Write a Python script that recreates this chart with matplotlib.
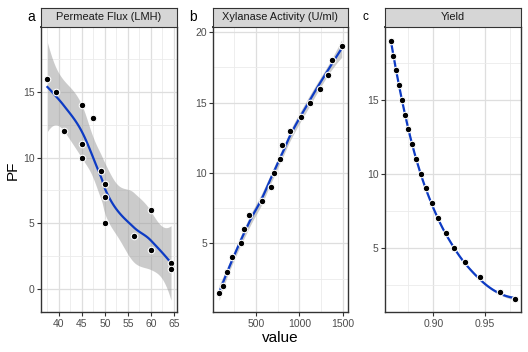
import numpy as np
import matplotlib
matplotlib.use("Agg")
import matplotlib.pyplot as plt
from matplotlib.ticker import MultipleLocator

plt.rcParams['font.family'] = ['Liberation Sans', 'DejaVu Sans']

# ---------------- data ----------------
titles = ["Permeate Flux (LMH)", "Xylanase Activity (U/ml)", "Yield"]
panel_tags = ["a", "b", "c"]

pf_a = [16, 15, 12, 14, 11, 10, 13, 9, 8, 7, 5, 4, 6, 3, 2, 1.5]
flux = [37.5, 39.3, 41.0, 45.0, 45.0, 45.0, 47.5, 49.2, 50.0, 50.0, 50.0, 56.3, 60.0, 60.0, 64.4, 64.4]

pf_b = [1.5, 2, 3, 4, 5, 6, 7, 8, 9, 10, 11, 12, 13, 14, 15, 16, 17, 18, 19]
xylanase = [80, 129, 174, 223, 330, 367, 424, 572, 678, 705, 773, 803, 898, 1019, 1119, 1235, 1330, 1371, 1485]

pf_c = [19, 18, 17, 16, 15, 14, 13, 12, 11, 10, 9, 8, 7, 6, 5, 4, 3, 2, 1.5]
yield_ = [0.8585, 0.8608, 0.8634, 0.8663, 0.8690, 0.8722, 0.8755, 0.8791, 0.8830, 0.8876,
          0.8925, 0.8984, 0.9042, 0.9121, 0.9203, 0.9310, 0.9451, 0.9654, 0.9794]

x_ticks = [[40, 45, 50, 55, 60, 65], [500, 1000, 1500], [0.90, 0.95]]
x_ticklabels = [["40", "45", "50", "55", "60", "65"], ["500", "1000", "1500"], ["0.90", "0.95"]]
y_ticks = [[0, 5, 10, 15], [5, 10, 15, 20], [5, 10, 15]]


# ---------------- loess (span 0.75, degree 2, kd-tree interpolation) ----------------
def local_rows(x, x0, q):
    n = len(x)
    d = np.abs(x - x0)
    h = max(np.sort(d)[q - 1], 1e-12)
    u = np.clip(d / h, 0, 1)
    w = (1 - u ** 3) ** 3
    X = np.column_stack([np.ones(n), x - x0, (x - x0) ** 2])
    XtW = X.T * w
    B = np.linalg.solve(X.T @ X * 0 + XtW @ X, XtW)
    return B[0], B[1]          # rows giving value and slope


def kd_vertices(x, span, cell=0.2):
    xs = np.sort(x)
    n = len(xs)
    fc = int(np.floor(n * span * cell))
    rng = xs[-1] - xs[0]
    lo_b, hi_b = xs[0] - 0.005 * rng, xs[-1] + 0.005 * rng
    verts = {lo_b, hi_b}

    def split(l, u, vl, vu):          # 0-based inclusive indices
        if u - l + 1 <= fc:
            return
        m = (l + u + 2) // 2 - 1
        off = 0
        while True:
            if m + off >= u or m + off < l:
                break
            if xs[m + off] == xs[m + off + 1]:
                off = -off
                if off >= 0:
                    off += 1
                continue
            m = m + off
            break
        v = xs[m]
        if v == vl or v == vu:
            return
        verts.add(v)
        split(l, m, vl, v)
        split(m + 1, u, v, vu)

    split(0, n - 1, lo_b, hi_b)
    return np.array(sorted(verts))


def interp_rows(x, xe, span=0.75):
    x = np.asarray(x, float)
    n = len(x)
    q = int(np.floor(n * span))
    V = kd_vertices(x, span)
    val, slp = zip(*[local_rows(x, v, q) for v in V])
    val, slp = np.array(val), np.array(slp)
    out = []
    for x0 in xe:
        j = np.clip(np.searchsorted(V, x0) - 1, 0, len(V) - 2)
        h = V[j + 1] - V[j]
        t = (x0 - V[j]) / h
        p0 = (1 - t) ** 2 * (1 + 2 * t)
        p1 = t ** 2 * (3 - 2 * t)
        s0 = t * (1 - t) ** 2
        s1 = -t ** 2 * (1 - t)
        out.append(p0 * val[j] + p1 * val[j + 1] + h * (s0 * slp[j] + s1 * slp[j + 1]))
    return np.array(out)


def t975(df):
    z = 1.959963985
    return (z + (z ** 3 + z) / (4 * df) + (5 * z ** 5 + 16 * z ** 3 + 3 * z) / (96 * df ** 2)
            + (3 * z ** 7 + 19 * z ** 5 + 17 * z ** 3 - 15 * z) / (384 * df ** 3))


def loess_fit(x, y, npts=80):
    x = np.asarray(x, float)
    y = np.asarray(y, float)
    n = len(x)
    L = interp_rows(x, x)
    IL = np.eye(n) - L
    M = IL.T @ IL
    d1 = np.trace(M)
    d2 = np.trace(M @ M)
    sigma = np.sqrt(np.sum((IL @ y) ** 2) / d1)
    xe = np.linspace(x.min(), x.max(), npts)
    Le = interp_rows(x, xe)
    fit = Le @ y
    se = sigma * np.sqrt(np.sum(Le ** 2, axis=1))
    tq = t975(d1 ** 2 / d2)
    return xe, fit, fit - tq * se, fit + tq * se


# ---------------- layout ----------------
W, H = 528, 352
fig = plt.figure(figsize=(W / 100, H / 100), dpi=100)

panel_px = [(41, 177), (213.3, 347.5), (385, 521)]
top_px, bot_px, strip_top_px = 26.7, 312.3, 8.3
xlims = [(36.1, 65.7), (14, 1552), (0.8526, 0.9857)]
ylims = [(-1.77, 19.95), (0.1, 20.4), (0.62, 19.95)]
xs_all = [flux, xylanase, yield_]
ys_all = [pf_a, pf_b, pf_c]
tag_px = [(31, 17), (193, 17), (365, 17)]

line_col = "#0D3BC4"
border_col = "#333333"

for i in range(3):
    l, r = panel_px[i]
    ax = fig.add_axes([l / W, 1 - bot_px / H, (r - l) / W, (bot_px - top_px) / H])
    sx = fig.add_axes([l / W, 1 - top_px / H, (r - l) / W, (top_px - strip_top_px) / H])

    x, y = xs_all[i], ys_all[i]
    xe, fit, lo, hi = loess_fit(x, y)
    ax.fill_between(xe, lo, hi, color="#999999", alpha=0.5, lw=0, zorder=2)
    ax.plot(xe, fit, color=line_col, lw=1.6, zorder=3)
    ax.scatter(x, y, s=22, color="black", edgecolor="white", linewidth=0.8, zorder=4)

    ax.set_xlim(*xlims[i])
    ax.set_ylim(*ylims[i])
    ax.set_xticks(x_ticks[i])
    ax.set_xticklabels(x_ticklabels[i])
    ax.set_yticks(y_ticks[i])
    xt = x_ticks[i]
    step = xt[1] - xt[0]
    ax.xaxis.set_minor_locator(MultipleLocator(step / 2))
    ax.yaxis.set_minor_locator(MultipleLocator(2.5))
    ax.tick_params(which="minor", length=0)
    ax.tick_params(which="major", length=3, width=0.8, color=border_col,
                   labelsize=7.5, labelcolor="#4D4D4D", pad=1.5)
    ax.grid(which="major", color="#DEDEDE", lw=0.9, zorder=0)
    ax.grid(which="minor", color="#EBEBEB", lw=0.6, zorder=0)
    ax.set_axisbelow(True)
    for sp in ax.spines.values():
        sp.set_color(border_col)
        sp.set_linewidth(1.0)
    ax.spines["top"].set_color("black")
    ax.spines["top"].set_linewidth(1.2)

    sx.set_facecolor("#D6D6D6")
    sx.set_xticks([])
    sx.set_yticks([])
    for sp in sx.spines.values():
        sp.set_color(border_col)
        sp.set_linewidth(0.8)
    sx.text(0.5, 0.5, titles[i], ha="center", va="center", fontsize=7.9,
            color="#1A1A1A", transform=sx.transAxes)

    tx, ty = tag_px[i]
    fig.text(tx / W, 1 - ty / H, panel_tags[i], ha="center", va="center",
             fontsize=10 if i < 2 else 8.5, color="black")

fig.text(13 / W, 1 - 170 / H, "PF", rotation=90, ha="center", va="center", fontsize=11)
fig.text(280 / W, 1 - 338 / H, "value", ha="center", va="center", fontsize=11)

fig.savefig("out.png", dpi=100)
